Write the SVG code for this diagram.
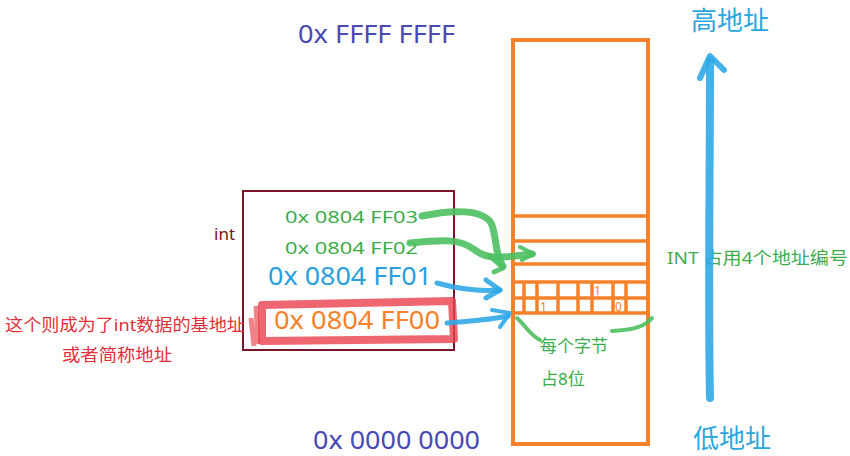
<svg xmlns="http://www.w3.org/2000/svg" width="850" height="456" viewBox="0 0 850 456">
<style>
text{font-family:"Noto Sans","Noto Sans CJK SC",sans-serif;}
.mem{fill:none;stroke:#f5822a;stroke-width:4;}
.cell{fill:none;stroke:#f5822a;stroke-width:3.5;}
.g{fill:#3cac4c;font-size:17px;}
.addr{fill:#4a4ab4;font-size:25px;}
.hl{fill:#2aa0dc;font-size:25px;}
.red{fill:#e0303c;font-size:17px;}
.bit{fill:#f5822a;font-size:12px;}
.gs{fill:none;stroke:#4cc060;stroke-linecap:round;stroke-linejoin:round;opacity:0.9;}
.bs{fill:none;stroke:#30a8e6;stroke-linecap:round;stroke-linejoin:round;opacity:0.9;}
</style>
<rect width="850" height="456" fill="#ffffff"/>
<g id="addr-top"><text x="298" y="43" class="addr" textLength="157" lengthAdjust="spacingAndGlyphs">0x FFFF FFFF</text></g>
<g id="addr-bottom"><text x="313" y="449" class="addr" textLength="167" lengthAdjust="spacingAndGlyphs">0x 0000 0000</text></g>
<g id="high"><text x="691" y="30" style="fill:#2aa6dc;font-size:26px">高地址</text></g>
<g id="low"><text x="693" y="448" style="fill:#2aa6dc;font-size:26px">低地址</text></g>
<g id="int-note"><text x="667" y="264" class="g" textLength="181" lengthAdjust="spacingAndGlyphs">INT 占用4个地址编号</text></g>
<g id="memory">
<rect x="513" y="40" width="135" height="404" class="mem"/>
<line x1="513" y1="216" x2="648" y2="216" class="cell"/>
<line x1="513" y1="241" x2="648" y2="241" class="cell"/>
<line x1="513" y1="264" x2="648" y2="264" class="cell"/>
<rect x="513" y="282" width="135" height="31" class="cell"/>
<line x1="513" y1="298" x2="648" y2="298" class="cell"/>
<path d="M524 282V313M537 282V313M558 282V313M578 282V313M592 282V313M613 282V313M626 282V313" class="cell"/>
<text x="594" y="295" class="bit">1</text>
<text x="540" y="311" class="bit">1</text>
<text x="615" y="311" class="bit">0</text>
</g>
<g id="int-box">
<rect x="243" y="191" width="211" height="159" fill="none" stroke="#7a1428" stroke-width="2"/>
<text x="214" y="240" style="fill:#7a1428;font-size:17px">int</text>
<text x="285" y="223" class="g" textLength="133" lengthAdjust="spacingAndGlyphs">0x 0804 FF03</text>
<text x="285" y="254" class="g" textLength="133" lengthAdjust="spacingAndGlyphs">0x 0804 FF02</text>
<text x="268" y="285" class="hl" textLength="164" lengthAdjust="spacingAndGlyphs">0x 0804 FF01</text>
</g>
<g id="base">
<path d="M262 305 L452 301 L454 339 L262 341 Z" fill="none" stroke="#e8404c" stroke-width="8" stroke-linejoin="round" opacity="0.8"/>
<path d="M256 306 L258 344 M251 318 L254 346" stroke="#e8404c" stroke-width="5" opacity="0.65" fill="none"/>
<text x="274" y="329" style="fill:#f5822a;font-size:25px" textLength="166" lengthAdjust="spacingAndGlyphs">0x 0804 FF00</text>
</g>
<g id="base-note">
<text x="5" y="331" class="red" textLength="240" lengthAdjust="spacingAndGlyphs">这个则成为了int数据的基地址</text>
<text x="62" y="361" class="red" textLength="110" lengthAdjust="spacingAndGlyphs">或者简称地址</text>
</g>
<g id="byte-note">
<text x="540" y="352" class="g">每个字节</text>
<text x="541" y="385" class="g">占8位</text>
</g>
<g id="connectors">
<path d="M422 216 C450 210 485 208 492 225 C497 240 495 255 503 266" class="gs" stroke-width="7"/>
<path d="M490 256 L503 268 L494 272" class="gs" stroke-width="5"/>
<path d="M410 243 C440 240 460 238 475 250 C490 262 510 256 532 254" class="gs" stroke-width="7"/>
<path d="M520 247 L534 254 L522 260" class="gs" stroke-width="4"/>
<path d="M437 283 C455 288 475 292 500 290" class="bs" stroke-width="5"/>
<path d="M486 280 L500 290 L486 298" class="bs" stroke-width="5"/>
<path d="M447 323 C470 321 490 320 508 316" class="bs" stroke-width="5"/>
<path d="M492 310 L510 313 L500 327" class="bs" stroke-width="4"/>
<path d="M517 318 C525 325 530 335 540 340" class="gs" stroke-width="4"/>
<path d="M612 331 C630 330 640 328 648 322 L652 318" class="gs" stroke-width="4"/>
<path d="M710 398 C708 300 710 180 710 60" class="bs" stroke-width="8"/>
<path d="M700 78 L710 56 L724 70" class="bs" stroke-width="6"/>
</g>
</svg>
